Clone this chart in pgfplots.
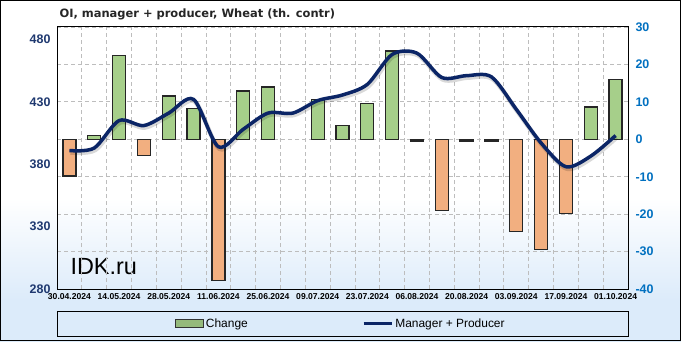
\documentclass[border=0pt]{standalone}
\usepackage{pgfplots}
\pgfplotsset{compat=1.18}
\usepackage{pgfplotstable}
\usepackage{fontspec}
\setmainfont{Liberation Sans}
\newfontfamily\tahomaish{DejaVu Sans}
\definecolor{navyline}{HTML}{0B2566}
\definecolor{rblue}{HTML}{0070C0}
\definecolor{lnavy}{HTML}{1F3970}
\definecolor{barg}{HTML}{A6CF8A}
\definecolor{baro}{HTML}{F2AF80}
\definecolor{bgblue}{HTML}{DCEBFA}
\definecolor{gridc}{HTML}{BDBDBD}
\pgfdeclareverticalshading{bgsh}{100bp}{color(0bp)=(bgblue); color(31bp)=(bgblue); color(46bp)=(white); color(100bp)=(white)}

\pgfplotstableread{
x chg
0 -9.8
3 -4.3
6 -37.7
15 -19.0
18 -24.6
19 -29.4
20 -19.9
}\negdata
\pgfplotstableread{
x chg
14 -0.5
16 -0.5
17 -0.5
}\zerodata
\pgfplotstableread{
x chg
1 1.1
2 22.3
4 11.6
5 8.3
7 12.9
8 14.0
10 10.6
11 3.7
12 9.5
13 23.6
21 8.6
22 16.0
}\posdata
\pgfplotstableread{
x oi
0 391
1 393
2 415
3 411
4 421
5 432
6 394
7 408
8 421
9 421
10 431
11 435.5
12 444
13 468
14 469
15 449.5
16 451
17 450
18 424
19 397
20 378
21 386.5
22 403
}\oidata

\begin{document}
\begin{tikzpicture}[x=1bp,y=1bp]
\shade[shading=bgsh] (0,0) rectangle (681,341);
\draw[black, line width=1bp] (0.5,0.5) rectangle (680.5,340.5);
\node[anchor=west, font=\tahomaish\fontsize{11.5}{13}\selectfont\bfseries, text=black!85] at (56,327) {OI, manager + producer, Wheat (th. contr)};
\node[anchor=base west, font=\fontsize{23.5}{24}\selectfont] at (67,67) {IDK.ru};
\draw[black, line width=1bp] (57,5) rectangle (628,30);

\begin{axis}[
  at={(57bp,52bp)}, anchor=south west,
  scale only axis, width=571bp, height=262bp,
  xmin=-0.5, xmax=22.5, ymin=-40, ymax=30,
  /pgf/number format/assume math mode=true,
  ytick={-40,-30,...,30},
  yticklabel pos=right,
  yticklabel style={font=\fontsize{12.5}{13}\selectfont\bfseries, text=rblue, xshift=4bp},
  xtick={0,2,...,22},
  xticklabels={30.04.2024,14.05.2024,28.05.2024,11.06.2024,25.06.2024,09.07.2024,23.07.2024,06.08.2024,20.08.2024,03.09.2024,17.09.2024,01.10.2024},
  xticklabel style={font=\fontsize{8.6}{9}\selectfont\bfseries, yshift=-1bp},
  minor xtick={0.5,1.5,...,21.5},
  xminorgrids=true, ymajorgrids=true,
  major grid style={gridc, dash pattern=on 4bp off 3bp, line width=0.8bp},
  minor grid style={gridc, dash pattern=on 4bp off 3bp, line width=0.8bp},
  major tick length=0pt, minor tick length=0pt,
  axis line style={black, line width=1bp},
  ybar, bar width=13bp, bar shift=0pt,
]
\addplot[fill=baro, draw=black!85, line width=1.3bp] table[x=x, y=chg] {\negdata};
\addplot[fill=black!85, draw=black!85, line width=1.3bp] table[x=x, y=chg] {\zerodata};
\addplot[fill=barg, draw=black!85, line width=1.3bp] table[x=x, y=chg] {\posdata};
\end{axis}

\begin{axis}[
  at={(57bp,52bp)}, anchor=south west,
  scale only axis, width=571bp, height=262bp,
  xmin=-0.5, xmax=22.5, ymin=280, ymax=490,
  /pgf/number format/assume math mode=true,
  ytick={280,330,...,480},
  yticklabel pos=left,
  yticklabel style={font=\fontsize{12.5}{13}\selectfont\bfseries, text=lnavy, xshift=-3bp},
  xtick=\empty,
  major tick length=0pt,
  axis line style={black, line width=1bp},
  legend style={at={(0.497,-0.1317)}, anchor=center, draw=none, fill=none,
    font=\fontsize{12}{13}\selectfont, legend columns=2,
    /tikz/every even column/.append style={column sep=112bp}},
  legend cell align=left,
]
\addlegendimage{legend image code/.code={\draw[fill=barg!90!black, draw=black!80, line width=1bp] (0bp,-4bp) rectangle (28bp,4bp);}}
\addlegendentry{Change}
\addplot[smooth, black, opacity=0.15, line width=4.5bp, xshift=1bp, yshift=-2bp, forget plot] table[x=x, y=oi] {\oidata};
\addplot[smooth, navyline, line width=3.5bp, legend image code/.code={\draw[navyline, line width=3.5bp] (0bp,0bp) -- (28bp,0bp);}] table[x=x, y=oi] {\oidata};
\addlegendentry{Manager + Producer}
\end{axis}
\end{tikzpicture}
\end{document}
